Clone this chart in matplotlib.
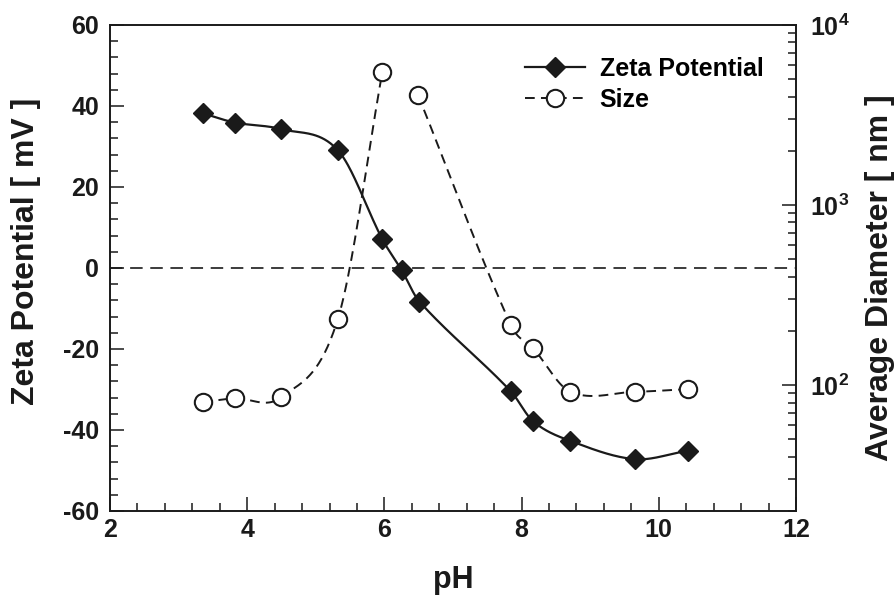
import numpy as np
import matplotlib
matplotlib.use('Agg')
import matplotlib.pyplot as plt
from matplotlib.ticker import MultipleLocator, FixedLocator, FixedFormatter, NullFormatter
from matplotlib.lines import Line2D

# data
ph_zeta = [3.35, 3.82, 4.49, 5.32, 5.97, 6.25, 6.51, 7.84, 8.17, 8.71, 9.65, 10.42]
zeta_mv = [38.2, 35.9, 34.3, 29.1, 7.1, -0.5, -8.3, -30.4, -37.9, -42.7, -47.2, -45.1]

ph_size = [3.35, 3.82, 4.49, 5.32, 5.97, 6.49, 7.84, 8.17, 8.71, 9.65, 10.42]
size_nm = [80.5, 84.4, 85.4, 232, 5480, 4085, 217, 160, 91.8, 91.8, 95]
size_split = 5  # the dashed line is broken between the peak and the next point

x_ticks = [2, 4, 6, 8, 10, 12]
zeta_ticks = [-60, -40, -20, 0, 20, 40, 60]
size_ticks = [100, 1000, 10000]
size_labels = ['$10^2$', '$10^3$', '$10^4$']

plt.rcParams['font.family'] = ['Liberation Sans', 'DejaVu Sans']
plt.rcParams['font.weight'] = 'bold'
plt.rcParams['mathtext.fontset'] = 'custom'
plt.rcParams['mathtext.rm'] = 'Liberation Sans:bold'
plt.rcParams['mathtext.it'] = 'Liberation Sans:bold'
plt.rcParams['mathtext.bf'] = 'Liberation Sans:bold'
plt.rcParams['mathtext.default'] = 'rm'
plt.rcParams['axes.unicode_minus'] = False
plt.rcParams['lines.scale_dashes'] = False

ink = '#1a1a1a'


def smooth(x, y, n=40):
    # catmull-rom style cubic through the points (only for drawing the curve)
    x = np.asarray(x, float)
    y = np.asarray(y, float)
    h = np.diff(x)
    m = np.empty_like(y)
    m[0] = (y[1] - y[0]) / h[0]
    m[-1] = (y[-1] - y[-2]) / h[-1]
    m[1:-1] = (y[2:] - y[:-2]) / (x[2:] - x[:-2])
    xs, ys = [], []
    for i in range(len(x) - 1):
        t = np.linspace(0, 1, n)
        h00 = 2 * t**3 - 3 * t**2 + 1
        h10 = t**3 - 2 * t**2 + t
        h01 = -2 * t**3 + 3 * t**2
        h11 = t**3 - t**2
        xs.append(x[i] + t * h[i])
        ys.append(h00 * y[i] + h10 * h[i] * m[i] + h01 * y[i + 1] + h11 * h[i] * m[i + 1])
    return np.concatenate(xs), np.concatenate(ys)


fig = plt.figure(figsize=(8.95, 5.97), dpi=100)
ax = fig.add_axes([0.1229, 0.1441, 0.7665, 0.8141])
ax2 = ax.twinx()

# zero line
ax.axhline(0, color=ink, lw=1.2, dashes=(9, 5.5), zorder=1)

# zeta potential
sx, sy = smooth(ph_zeta, zeta_mv)
ax.plot(sx, sy, color=ink, lw=1.6, zorder=2)
ax.plot(ph_zeta, zeta_mv, ls='none', marker='D', ms=10.5, color=ink, zorder=3)

# size (log axis), smoothed in log space
for a, b in [(0, size_split), (size_split, len(ph_size))]:
    sx, sy = smooth(ph_size[a:b], np.log10(size_nm[a:b]))
    ax2.plot(sx, 10**sy, color=ink, lw=1.4, dashes=(7, 4.5), zorder=2)
ax2.plot(ph_size, size_nm, ls='none', marker='o', ms=12.5, mfc='white',
         mec=ink, mew=1.5, zorder=3)

ax.set_xlim(2, 12)
ax.set_ylim(-60, 60)
ax2.set_yscale('log')
ax2.set_ylim(20, 10000)

ax.xaxis.set_major_locator(FixedLocator(x_ticks))
ax.xaxis.set_minor_locator(MultipleLocator(0.4))
ax.yaxis.set_major_locator(FixedLocator(zeta_ticks))
ax.yaxis.set_minor_locator(MultipleLocator(4))
ax2.yaxis.set_major_locator(FixedLocator(size_ticks))
ax2.yaxis.set_major_formatter(FixedFormatter(size_labels))
minors = [k * 10**e for e in (1, 2, 3) for k in range(2, 10)]
ax2.yaxis.set_minor_locator(FixedLocator(minors))
ax2.yaxis.set_minor_formatter(NullFormatter())

for a in (ax, ax2):
    a.tick_params(which='major', direction='in', length=10, width=1.1, colors=ink,
                  labelsize=18, pad=8)
    a.tick_params(which='minor', direction='in', length=6, width=1.1, colors=ink)
    for s in a.spines.values():
        s.set_linewidth(1.2)
        s.set_color(ink)
ax.tick_params(axis='x', which='both', top=False)
ax.tick_params(axis='x', which='major', pad=5)
ax.tick_params(axis='y', which='both', right=False)
ax2.tick_params(axis='y', which='major', pad=10)

ax.set_xlabel('pH', fontsize=22, fontweight='bold', color=ink)
ax.set_ylabel('Zeta Potential [ mV ]', fontsize=23, fontweight='bold', color=ink)
ax2.set_ylabel('Average Diameter [ nm ]', fontsize=23, fontweight='bold', color=ink)
ax.xaxis.set_label_coords(0.5, -0.112)
ax.yaxis.set_label_coords(-0.1, 0.535)
ax2.yaxis.set_label_coords(1.1, 0.48)

handles = [
    Line2D([], [], color=ink, lw=1.6, marker='D', ms=10.5),
    Line2D([], [], color=ink, lw=1.4, dashes=(7, 4.5), marker='o', ms=12.5,
           mfc='white', mec=ink, mew=1.5),
]
ax2.legend(handles, ['Zeta Potential', 'Size'], loc='upper left',
           bbox_to_anchor=(0.586, 0.96), frameon=False, fontsize=18,
           handlelength=2.4, handletextpad=0.6, labelspacing=0.28, borderpad=0)

fig.savefig('out.png', dpi=100)
